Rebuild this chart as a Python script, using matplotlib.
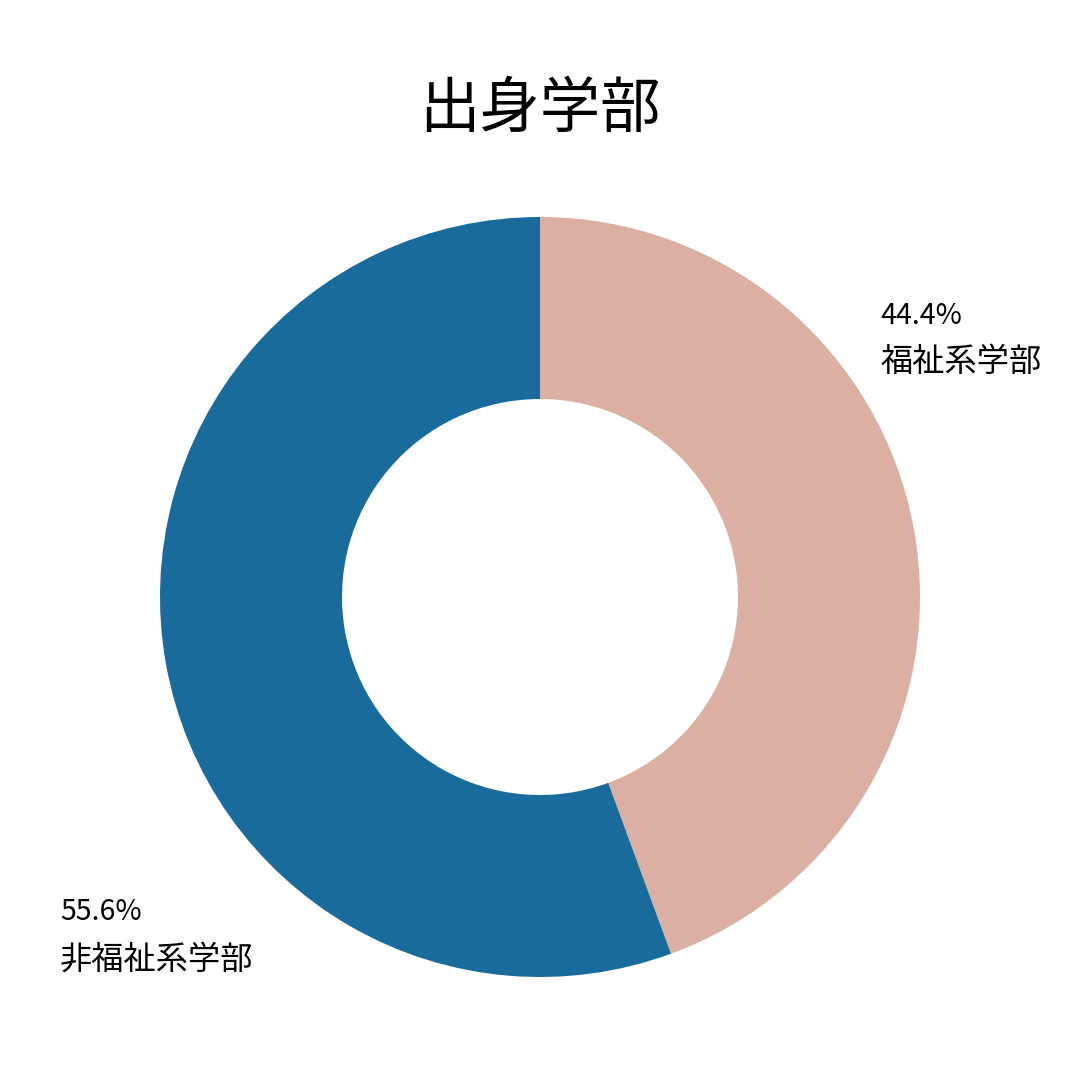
import matplotlib
matplotlib.use("Agg")
import matplotlib.pyplot as plt

plt.rcParams['font.family'] = ['Noto Sans CJK JP', 'DejaVu Sans']

title = "出身学部"
categories = ["福祉系学部", "非福祉系学部"]
values = [44.4, 55.6]
colors = ["#dbafa1", "#196b9c"]

fig = plt.figure(figsize=(10.8, 10.8), dpi=100)
fig.patch.set_facecolor("white")

W = 1080.0
cx, cy, R, r = 540, 597, 380, 198
ax = fig.add_axes([(cx - R) / W, (W - cy - R) / W, 2 * R / W, 2 * R / W])
ax.pie(values, colors=colors, startangle=90, counterclock=False,
       radius=1.0, wedgeprops=dict(width=(R - r) / R, edgecolor="none"))
ax.set_xlim(-1, 1)
ax.set_ylim(-1, 1)
ax.set_aspect("equal")
ax.axis("off")

fig.text(0.5, 1 - 110 / W, title, ha="center", va="center", fontsize=43.5)

label_pos = [(880, 316, 362), (60, 912, 960)]
for cat, val, (x, yp, yc) in zip(categories, values, label_pos):
    fig.text(x / W, 1 - yp / W, f"{val:.1f}%", ha="left", va="center", fontsize=20.5)
    fig.text(x / W, 1 - yc / W, cat, ha="left", va="center", fontsize=23.2)

fig.savefig("out.png", dpi=100)
